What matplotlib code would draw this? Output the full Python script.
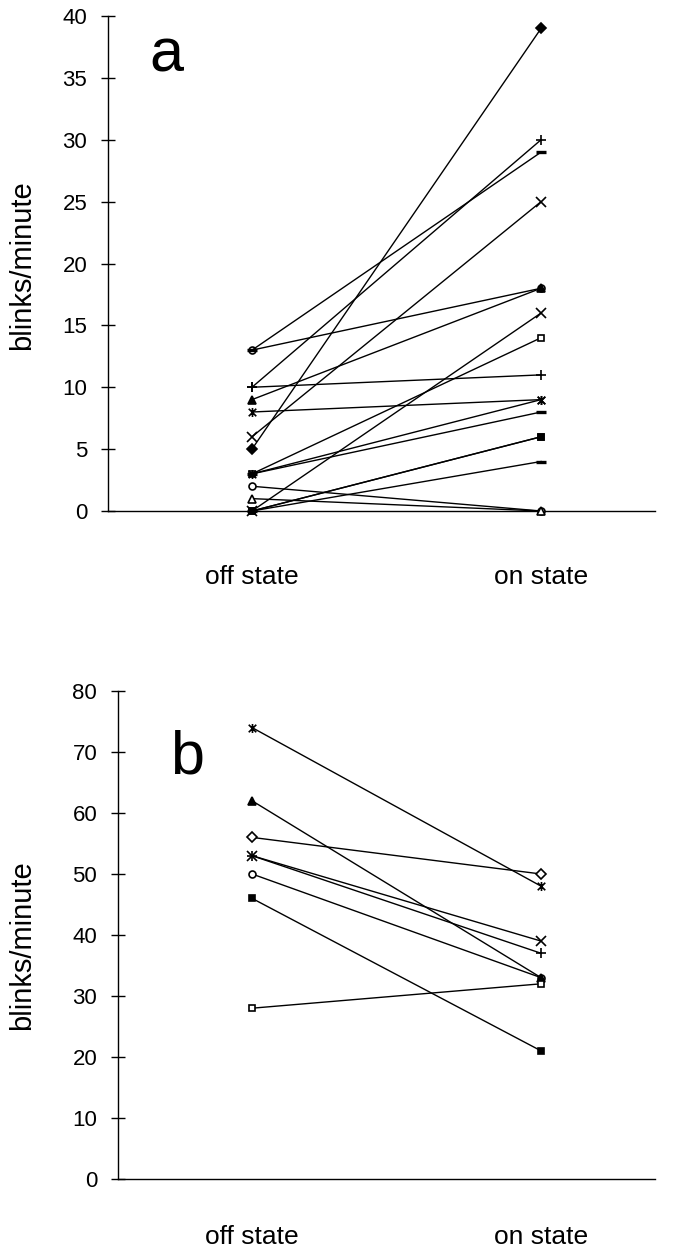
import matplotlib
matplotlib.use("Agg")
import matplotlib.pyplot as plt
from matplotlib.path import Path

plt.rcParams['font.family'] = ['Liberation Sans', 'DejaVu Sans']

categories = ["off state", "on state"]

# Panel a: one entry per subject
a_off = [5, 3, 9, 6, 8, 13, 10, 13, 0, 1, 0, 3, 2, 10, 3, 0, 0]
a_on = [39, 14, 18, 25, 9, 18, 30, 29, 6, 0, 16, 9, 0, 11, 8, 4, 6]
a_markers = ["D", "s", "^", "x", "star", "o", "+", "_", "s", "^", "x", "star", "o", "+", "_", "_", "s"]
a_filled = [True, False, True, False, False, False, False, False, False, False, False, False, False, False, False, False, True]

# Panel b
b_off = [56, 46, 62, 53, 74, 50, 53, 28]
b_on = [50, 21, 33, 39, 48, 33, 37, 32]
b_markers = ["D", "s", "^", "x", "star", "o", "+", "s"]
b_filled = [False, True, True, False, False, False, False, False]

star_path = Path(
    [(-1, -1), (1, 1), (-1, 1), (1, -1), (0, -1.2), (0, 1.2)],
    [Path.MOVETO, Path.LINETO, Path.MOVETO, Path.LINETO, Path.MOVETO, Path.LINETO],
)

W, H = 673, 1257
fig = plt.figure(figsize=(W / 100, H / 100), dpi=100)


def draw(ax_rect, xlim, off, on, markers, filled, ymax, ystep, letter, letter_xy, ylab_y, xpad):
    ax = fig.add_axes(ax_rect)
    order = sorted(range(len(off)), key=lambda i: 0 if markers[i] == "o" else 1)
    for i in order:
        o, n, m, f = off[i], on[i], markers[i], filled[i]
        mk = star_path if m == "star" else m
        size = {"D": 5, "s": 5, "^": 5.5, "x": 6.5, "star": 6.5, "o": 5, "+": 7.5, "_": 7}[m]
        ax.plot([0, 1], [o, n], color="black", lw=1.0,
                marker=mk, markersize=size,
                markerfacecolor="black" if f else "white",
                markeredgecolor="black", markeredgewidth=1.2 if m != "_" else 2.4,
                clip_on=False, zorder=3)
    ax.set_ylim(0, ymax)
    ax.set_xlim(*xlim)
    ax.set_yticks(range(0, ymax + 1, ystep))
    ax.tick_params(axis="y", direction="inout", length=10, width=1, labelsize=16, pad=10)
    ax.set_xticks([0, 1])
    ax.set_xticklabels(categories, fontsize=19)
    ax.tick_params(axis="x", length=0, pad=xpad)
    for s in ("top", "right"):
        ax.spines[s].set_visible(False)
    for s in ("left", "bottom"):
        ax.spines[s].set_linewidth(1.0)
    ax.text(letter_xy[0] / W, 1 - letter_xy[1] / H, letter, transform=fig.transFigure,
            fontsize=44, ha="center", va="center")
    fig.text(22 / W, 1 - ylab_y / H, "blinks/minute", rotation=90, fontsize=21,
             ha="center", va="center")
    return ax


draw([108 / W, 1 - 511 / H, (655 - 108) / W, (511 - 16) / H], (-0.498, 1.394),
     a_off, a_on, a_markers, a_filled, 40, 5, "a", (166, 56), 265, 39)
draw([118 / W, 1 - 1179 / H, (655 - 118) / W, (1179 - 691) / H], (-0.464, 1.394),
     b_off, b_on, b_markers, b_filled, 80, 10, "b", (187, 758), 945, 33)

fig.savefig("out.png", dpi=100)
